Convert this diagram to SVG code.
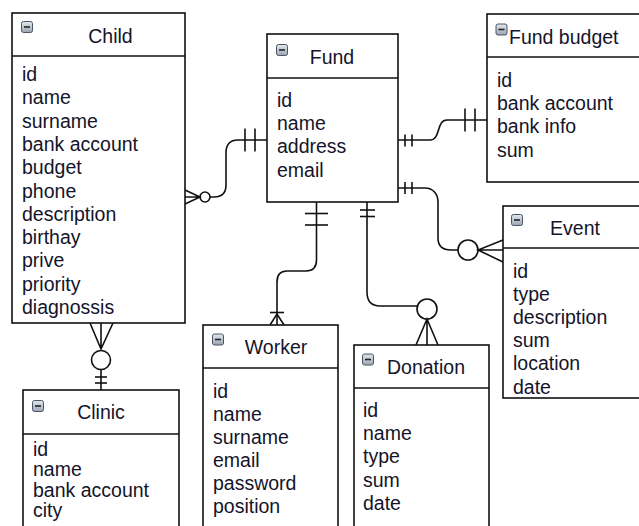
<svg xmlns="http://www.w3.org/2000/svg" width="639" height="526" viewBox="0 0 639 526">
<style>
.box{fill:#fff;stroke:#111;stroke-width:1.6}
.div{stroke:#111;stroke-width:1.6}
.t{font-family:"Liberation Sans",Arial,sans-serif;font-size:19.5px;fill:#14142a}
.h{font-family:"Liberation Sans",Arial,sans-serif;font-size:19.5px;fill:#14142a}
.c{fill:none;stroke:#111;stroke-width:1.6}
.ci{fill:#fff;stroke:#111;stroke-width:1.6}
</style>
<defs>
<linearGradient id="ig" x1="0" y1="0" x2="0" y2="1"><stop offset="0" stop-color="#e4e8ee"/><stop offset="1" stop-color="#9aa4b2"/></linearGradient>
<g id="icon"><rect x="0.5" y="0.5" width="11" height="11" rx="2" fill="url(#ig)" stroke="#4a5566" stroke-width="1"/><line x1="3" y1="6" x2="9" y2="6" stroke="#222" stroke-width="1.6"/></g>
</defs>
<rect width="639" height="526" fill="#fff"/>

<g id="connectors">
<!-- Child - Fund -->
<path class="c" d="M267,140 H238 C230,140 226,145 226,153 V185 C226,193 222,197 214,197 H210"/>
<line class="c" x1="245" y1="128.5" x2="245" y2="151.5"/>
<line class="c" x1="255" y1="128.5" x2="255" y2="151.5"/>
<circle class="ci" cx="205" cy="197" r="5"/>
<path class="c" d="M185,190 L200,197 L185,204 M185,197 H200"/>
<!-- Fund - Fund budget -->
<path class="c" d="M398,140 H430 C441,140 436,120 447,120 H487"/>
<line class="c" x1="405" y1="134.5" x2="405" y2="146.5"/>
<line class="c" x1="412" y1="134.5" x2="412" y2="146.5"/>
<line class="c" x1="465" y1="108.5" x2="465" y2="131.5"/>
<line class="c" x1="475" y1="108.5" x2="475" y2="131.5"/>
<!-- Fund - Event -->
<path class="c" d="M398,188 H425 C433,188 438,194 438,202 V238 C438,246 443,250 451,250 H458"/>
<line class="c" x1="405" y1="182" x2="405" y2="194"/>
<line class="c" x1="412" y1="182" x2="412" y2="194"/>
<circle class="ci" cx="468" cy="250" r="10"/>
<path class="c" d="M503,240 L478,250 L503,262 M478,250 H503"/>
<!-- Fund - Worker -->
<path class="c" d="M316.5,202 V260 C316.5,267 313,271 306,271 H287 C280,271 277,275 277,282 V325"/>
<line class="c" x1="305" y1="213.5" x2="328" y2="213.5"/>
<line class="c" x1="305" y1="225" x2="328" y2="225"/>
<line class="c" x1="270" y1="312.5" x2="284" y2="312.5"/>
<path class="c" d="M270,325 L277,314 L284,325"/>
<!-- Fund - Donation -->
<path class="c" d="M367,202 V292 C367,301 371,306 380,306 H418"/>
<line class="c" x1="360" y1="210" x2="375" y2="210"/>
<line class="c" x1="360" y1="216.5" x2="375" y2="216.5"/>
<circle class="ci" cx="427" cy="309" r="10"/>
<path class="c" d="M416,345 L427,319 L438,345 M427,319 V345"/>
<!-- Child - Clinic -->
<path class="c" d="M90,323 L101,349 L113,323 M101,323 V349"/>
<circle class="ci" cx="101" cy="360" r="9.5"/>
<path class="c" d="M101,369.5 V390"/>
<line class="c" x1="95" y1="377" x2="107" y2="377"/>
<line class="c" x1="95" y1="383" x2="107" y2="383"/>
</g>

<g id="child">
<rect class="box" x="12" y="13" width="173" height="310"/>
<line class="div" x1="12" y1="56" x2="185" y2="56"/>
<use href="#icon" x="21" y="21"/>
<text class="h" x="110.5" y="42.5" text-anchor="middle">Child</text>
<text class="t" x="22" y="81">id</text>
<text class="t" x="22" y="104.3">name</text>
<text class="t" x="22" y="127.6">surname</text>
<text class="t" x="22" y="150.9">bank account</text>
<text class="t" x="22" y="174.2">budget</text>
<text class="t" x="22" y="197.5">phone</text>
<text class="t" x="22" y="220.8">description</text>
<text class="t" x="22" y="244.1">birthay</text>
<text class="t" x="22" y="267.4">prive</text>
<text class="t" x="22" y="290.7">priority</text>
<text class="t" x="22" y="314">diagnossis</text>
</g>

<g id="fund">
<rect class="box" x="267" y="34" width="131" height="168"/>
<line class="div" x1="267" y1="78" x2="398" y2="78"/>
<use href="#icon" x="276" y="44"/>
<text class="h" x="332" y="64" text-anchor="middle">Fund</text>
<text class="t" x="277" y="107">id</text>
<text class="t" x="277" y="130.2">name</text>
<text class="t" x="277" y="153.4">address</text>
<text class="t" x="277" y="176.6">email</text>
</g>

<g id="fund-budget">
<rect class="box" x="487" y="14" width="160" height="168"/>
<line class="div" x1="487" y1="57" x2="647" y2="57"/>
<use href="#icon" x="495.5" y="23.5"/>
<text class="h" x="509" y="43.5">Fund budget</text>
<text class="t" x="497" y="87">id</text>
<text class="t" x="497" y="110.2">bank account</text>
<text class="t" x="497" y="133.4">bank info</text>
<text class="t" x="497" y="156.6">sum</text>
</g>

<g id="event">
<rect class="box" x="503" y="206" width="144" height="192"/>
<line class="div" x1="503" y1="248" x2="647" y2="248"/>
<use href="#icon" x="511" y="214"/>
<text class="h" x="575" y="235" text-anchor="middle">Event</text>
<text class="t" x="513" y="278">id</text>
<text class="t" x="513" y="301.1">type</text>
<text class="t" x="513" y="324.2">description</text>
<text class="t" x="513" y="347.3">sum</text>
<text class="t" x="513" y="370.4">location</text>
<text class="t" x="513" y="393.5">date</text>
</g>

<g id="clinic">
<rect class="box" x="23" y="390" width="156" height="150"/>
<line class="div" x1="23" y1="434" x2="179" y2="434"/>
<use href="#icon" x="32" y="400"/>
<text class="h" x="101" y="419" text-anchor="middle">Clinic</text>
<text class="t" x="33" y="456">id</text>
<text class="t" x="33" y="476.3">name</text>
<text class="t" x="33" y="496.6">bank account</text>
<text class="t" x="33" y="516.9">city</text>
</g>

<g id="worker">
<rect class="box" x="203" y="325" width="135" height="215"/>
<line class="div" x1="203" y1="368" x2="338" y2="368"/>
<use href="#icon" x="212" y="333.5"/>
<text class="h" x="276" y="354" text-anchor="middle">Worker</text>
<text class="t" x="213" y="398">id</text>
<text class="t" x="213" y="421">name</text>
<text class="t" x="213" y="444">surname</text>
<text class="t" x="213" y="467">email</text>
<text class="t" x="213" y="490">password</text>
<text class="t" x="213" y="513">position</text>
</g>

<g id="donation">
<rect class="box" x="354" y="345" width="135" height="195"/>
<line class="div" x1="354" y1="388" x2="489" y2="388"/>
<use href="#icon" x="362" y="353.5"/>
<text class="h" x="426" y="374" text-anchor="middle">Donation</text>
<text class="t" x="363" y="416.7">id</text>
<text class="t" x="363" y="440">name</text>
<text class="t" x="363" y="463.3">type</text>
<text class="t" x="363" y="486.6">sum</text>
<text class="t" x="363" y="509.9">date</text>
</g>
</svg>
